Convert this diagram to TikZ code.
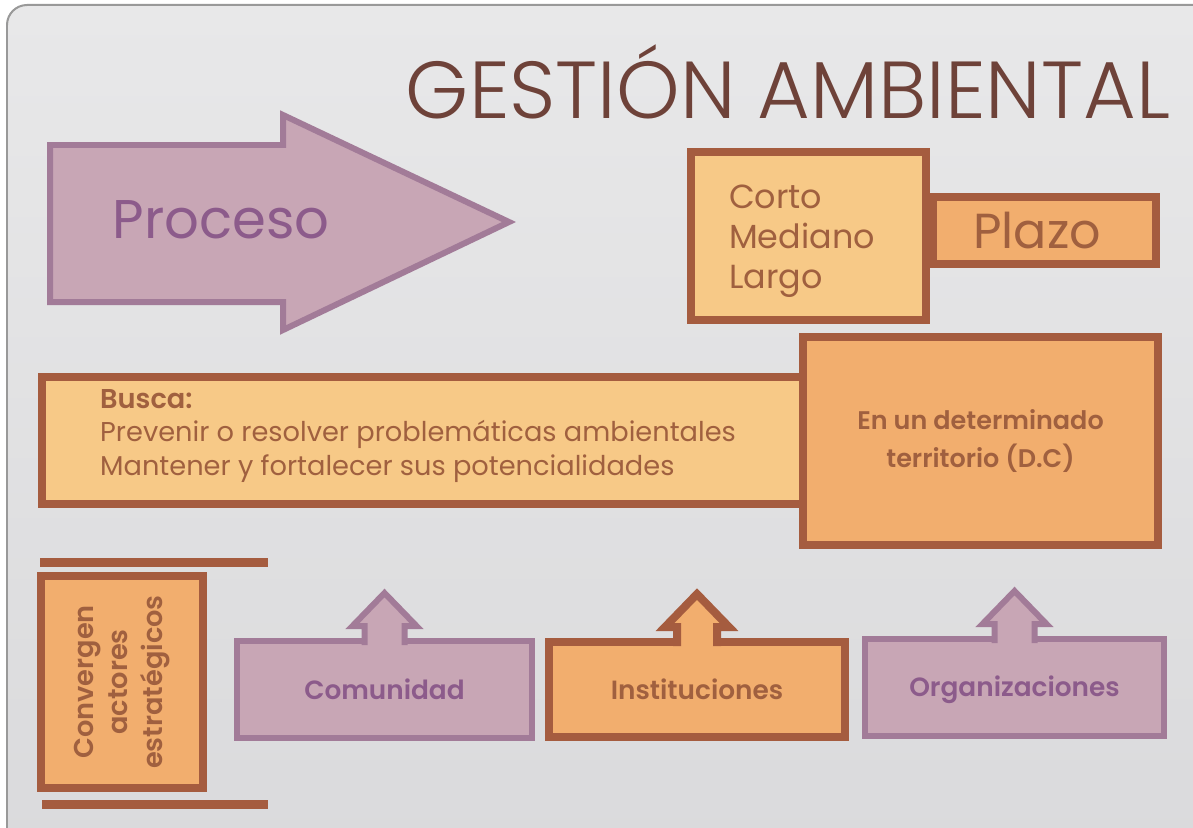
\documentclass[tikz,border=0pt]{standalone}
\usepackage{fontspec}
\setmainfont{Poppins}[BoldFont=Poppins SemiBold]
\newfontfamily\titlefont{Poppins Light}
\usetikzlibrary{calc,positioning}

\definecolor{bgtop}{HTML}{E8E8E9}
\definecolor{bgbot}{HTML}{DADADC}
\definecolor{mauvefill}{HTML}{C8A6B5}
\definecolor{mauveline}{HTML}{A27B98}
\definecolor{mauvetext}{HTML}{8C5B8B}
\definecolor{sandfill}{HTML}{F7C987}
\definecolor{orangefill}{HTML}{F2AE6E}
\definecolor{brownline}{HTML}{A55C3F}
\definecolor{browntext}{HTML}{A0603F}
\definecolor{titlebrown}{HTML}{6E4239}

\begin{document}
\begin{tikzpicture}[
		x=0.02cm, y=-0.02cm,
		sandbox/.style={rectangle, draw=brownline, fill=sandfill, line width=0.16cm, outer sep=0pt, inner sep=0pt, text=browntext},
		orangebox/.style={sandbox, fill=orangefill},
		mauvebox/.style={rectangle, draw=mauveline, fill=mauvefill, line width=0.12cm, outer sep=0pt, inner sep=0pt, text=mauvetext},
		bar/.style={draw=brownline, line width=0.18cm},
		line join=miter
		]
	
		\useasboundingbox (0,0) rectangle (1193,828);
	
		% --- fondo ---
		\draw[draw=gray!80, line width=0.04cm, top color=bgtop, bottom color=bgbot, rounded corners=0.4cm]
			(7,5) rectangle (1215,850);
	
		\node[text=titlebrown, font=\titlefont\fontsize{46}{50}\selectfont] (title) at (788,82) {GESTIÓN AMBIENTAL};
	
		% --- Proceso ---
		\filldraw[fill=mauvefill, draw=mauveline, line width=0.12cm]
			(50,145) -- (283,145) -- (283,115) -- (509,222) -- (283,330) -- (283,302) -- (50,302) -- cycle;
		\node[text=mauvetext, font=\fontsize{31}{34}\selectfont] (proc) at (221,220) {Proceso};
	
		% --- Plazo ---
		\node[orangebox, minimum width=4.46cm, minimum height=1.34cm, font=\fontsize{28}{32}\selectfont] (plazo) at (1044.5,230.5) {\hspace{-0.3cm}Plazo};
		\node[sandbox, minimum width=4.7cm, minimum height=3.36cm] (tiempo) at (808.5,236) {};
		\node[text=browntext, align=left, anchor=west, font=\fontsize{19}{22.7}\selectfont] (tiempotxt) at (723,241) {Corto\\Mediano\\Largo};
	
		% --- Busca / territorio ---
		\node[sandbox, minimum width=17.16cm, minimum height=2.54cm] (busca) at (471,440.5) {};
		\node[text=browntext, align=left, anchor=west, font=\fontsize{15.5}{19.3}\selectfont] (buscatxt) at (94,436) {\textbf{Busca:}\\Prevenir o resolver problemáticas ambientales\\Mantener y fortalecer sus potencialidades};
		\node[orangebox, minimum width=7.1cm, minimum height=4.16cm, align=center, font=\bfseries\fontsize{14.5}{21.5}\selectfont] (terr) at (980.5,441) {En un determinado\\territorio (D.C)};
	
		% --- actores ---
		\coordinate (barTL) at (40,562.5);
		\coordinate (barTR) at (268,562.5);
		\coordinate (barBL) at (42,804);
		\coordinate (barBR) at (268,804);
		\draw[bar] (barTL) -- (barTR);
		\draw[bar] (barBL) -- (barBR);
		\node[orangebox, minimum width=3.24cm, minimum height=4.24cm] (conv) at (122,682) {};
		\node[text=browntext, rotate=90, align=center, font=\bfseries\fontsize{15.5}{19.8}\selectfont] (convtxt) at (conv) {Convergen\\actores\\estratégicos};
	
		\node[mauvebox, minimum width=5.9cm, minimum height=1.94cm] (com) at (384.5,689.5) {};
		\node[orangebox, minimum width=5.92cm, minimum height=1.9cm] (ins) at (697,689.5) {};
		\node[mauvebox, minimum width=5.98cm, minimum height=1.94cm] (org) at (1014.5,687.5) {};
	
		\foreach \n/\f/\d/\w in {com/mauvefill/mauveline/0.12cm, ins/orangefill/brownline/0.16cm, org/mauvefill/mauveline/0.12cm}
			\filldraw[fill=\f, draw=\d, line width=\w]
				($(\n.north)+(-20,4)$) -- ($(\n.north)+(-20,-15)$) -- ($(\n.north)+(-32,-15)$)
				-- ($(\n.north)+(0,-48)$) -- ($(\n.north)+(32,-15)$) -- ($(\n.north)+(20,-15)$)
				-- ($(\n.north)+(20,4)$);
	
		\node[text=mauvetext, font=\bfseries\fontsize{15}{18}\selectfont] (comtxt) at (com) {Comunidad};
		\node[text=browntext, font=\bfseries\fontsize{15}{18}\selectfont] (instxt) at (ins) {Instituciones};
		\node[text=mauvetext, font=\bfseries\fontsize{15}{18}\selectfont] (orgtxt) at ($(org)+(0,2)$) {Organizaciones};
	
	\end{tikzpicture}
\end{document}
